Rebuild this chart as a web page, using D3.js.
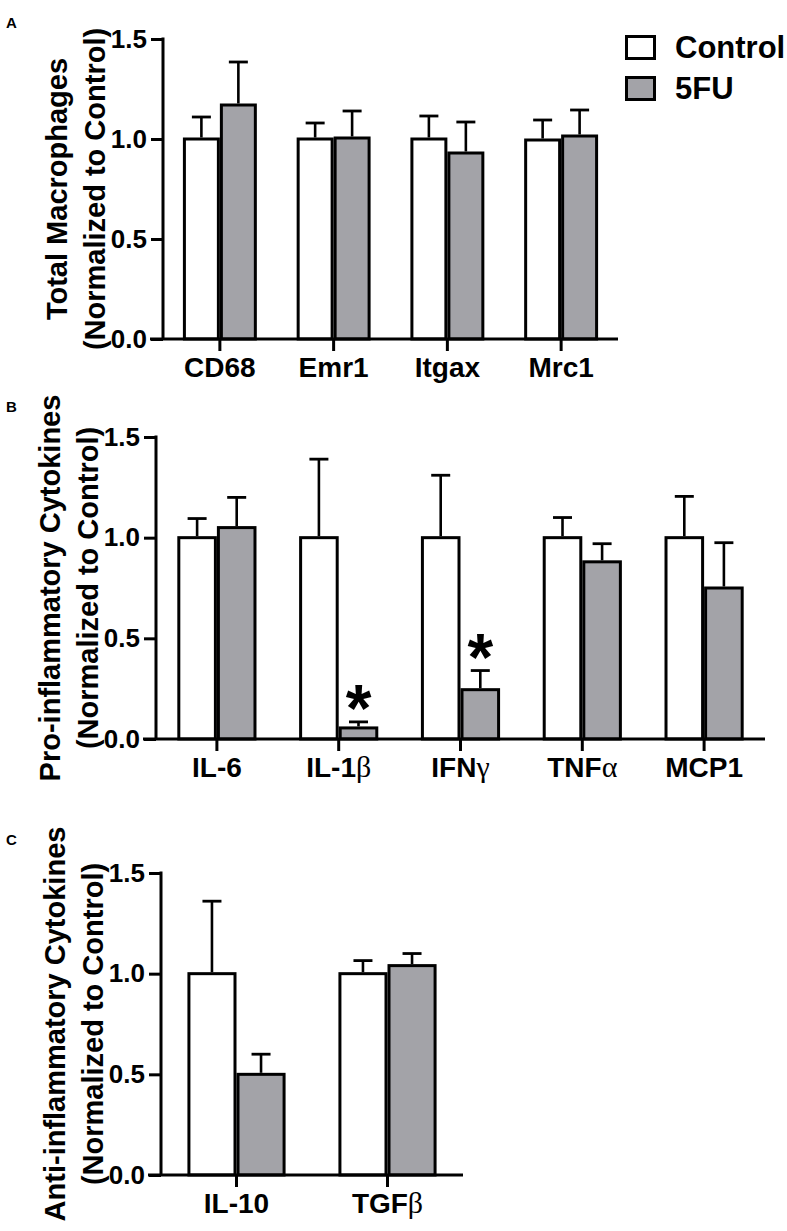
<!DOCTYPE html>
<html>
<head>
<meta charset="utf-8">
<script src="https://cdn.jsdelivr.net/npm/d3@7"></script>
<style>
  html, body { margin: 0; padding: 0; background: #fff; }
  svg { display: block; }
  text { font-family: "Liberation Sans", Arial, sans-serif; font-weight: bold; fill: #000; }
  .greek { font-family: "Liberation Serif", "DejaVu Serif", serif; font-weight: normal; }
</style>
</head>
<body>
<div id="chart"></div>
<script>
// ---------------- DATA ----------------
const seriesNames = ["Control", "5FU"];
const yTicks = [0, 0.5, 1.0, 1.5];

// Panel A: Total Macrophages
const catsA = ["CD68", "Emr1", "Itgax", "Mrc1"];
const controlA = [1.0, 1.0, 1.0, 0.995];
const controlErrA = [0.11, 0.08, 0.115, 0.10];
const fuA = [1.17, 1.005, 0.93, 1.015];
const fuErrA = [0.215, 0.135, 0.155, 0.13];
const sigA = [false, false, false, false];

// Panel B: Pro-inflammatory cytokines
const catsB = ["IL-6", "IL-1β", "IFNγ", "TNFα", "MCP1"];
const controlB = [1.0, 1.0, 1.0, 1.0, 1.0];
const controlErrB = [0.095, 0.39, 0.31, 0.10, 0.205];
const fuB = [1.05, 0.055, 0.245, 0.88, 0.75];
const fuErrB = [0.15, 0.03, 0.095, 0.09, 0.225];
const sigB = [false, true, true, false, false];

// Panel C: Anti-inflammatory cytokines
const catsC = ["IL-10", "TGFβ"];
const controlC = [1.0, 1.0];
const controlErrC = [0.36, 0.065];
const fuC = [0.5, 1.04];
const fuErrC = [0.10, 0.06];
const sigC = [false, false];

const colors = { "Control": "#ffffff", "5FU": "#a3a3a8" };

// ---------------- DRAW ----------------
const W = 787, H = 1231;
const svg = d3.select("#chart").append("svg").attr("width", W).attr("height", H);

function addLabel(sel, str) {
  const parts = str.match(/[\u0370-\u03FF]+|[^\u0370-\u03FF]+/g);
  parts.forEach(p => {
    const t = sel.append("tspan").text(p);
    if (/[\u0370-\u03FF]/.test(p)) t.attr("class", "greek").style("font-size", "30px");
  });
}

function drawPanel(opt) {
  const g = svg.append("g");
  const y = d3.scaleLinear().domain([0, 1.5]).range([opt.y0, opt.y1]);
  const x = d3.scaleBand().domain(opt.cats).range([opt.x0, opt.x1]).padding(0);
  const groupW = x.step() * 0.65;
  const sub = d3.scaleBand().domain(seriesNames).range([-groupW / 2, groupW / 2]).padding(0);

  const rows = opt.cats.map((c, i) => ({
    cat: c,
    vals: [
      { s: "Control", v: opt.control[i], e: opt.controlErr[i], sig: false },
      { s: "5FU", v: opt.fu[i], e: opt.fuErr[i], sig: opt.sig[i] }
    ]
  }));

  const sw = 3;
  const cg = g.selectAll("g.cat").data(rows).join("g")
    .attr("transform", d => `translate(${x(d.cat) + x.bandwidth() / 2},0)`);
  const bars = cg.selectAll("g.bar").data(d => d.vals).join("g");
  bars.append("rect")
    .attr("x", d => sub(d.s) + sw / 2)
    .attr("width", sub.bandwidth() - sw)
    .attr("y", d => y(d.v))
    .attr("height", d => y(0) - y(d.v))
    .attr("fill", d => colors[d.s])
    .attr("stroke", "#000").attr("stroke-width", sw);
  const cx = d => sub(d.s) + sub.bandwidth() / 2;
  bars.append("line")
    .attr("x1", cx).attr("x2", cx)
    .attr("y1", d => y(d.v) - sw / 2).attr("y2", d => y(d.v + d.e))
    .attr("stroke", "#000").attr("stroke-width", 2.6);
  bars.append("line")
    .attr("x1", d => cx(d) - 9.5).attr("x2", d => cx(d) + 9.5)
    .attr("y1", d => y(d.v + d.e)).attr("y2", d => y(d.v + d.e))
    .attr("stroke", "#000").attr("stroke-width", 2.8);
  bars.filter(d => d.sig).append("text")
    .attr("x", cx).attr("y", d => y(d.v + d.e) + 9)
    .attr("text-anchor", "middle")
    .style("font-size", "66px")
    .text("*");

  const ya = g.append("g").attr("transform", `translate(${opt.x0},0)`)
    .call(d3.axisLeft(y).tickValues(yTicks).tickFormat(d3.format(".1f")).tickSize(12).tickPadding(4));
  ya.select(".domain").attr("stroke", "#000").attr("stroke-width", 3)
    .attr("d", `M0,${y(0)}V${y(1.5) - 1.5}`);
  ya.selectAll(".tick line").attr("stroke", "#000").attr("stroke-width", 3);
  ya.selectAll(".tick text").style("font-size", "26px").style("font-family", null).attr("fill", "#000");

  const xa = g.append("g").attr("transform", `translate(0,${y(0)})`)
    .call(d3.axisBottom(x).tickSize(12).tickFormat(""));
  xa.select(".domain").attr("stroke", "#000").attr("stroke-width", 3)
    .attr("d", `M${opt.x0 - 13},0H${opt.x1}`);
  xa.selectAll(".tick line").attr("stroke", "#000").attr("stroke-width", 3);
  xa.selectAll(".tick text").remove();
  xa.selectAll(".tick").append("text")
    .attr("y", 38).attr("text-anchor", "middle")
    .style("font-size", "28px")
    .each(function (d) { addLabel(d3.select(this), d); });

  const cy = (opt.y0 + opt.y1) / 2;
  const t = g.append("text")
    .attr("transform", `translate(${opt.x0},${cy}) rotate(-90)`)
    .attr("text-anchor", "middle")
    .style("font-size", "29px");
  t.append("tspan").attr("x", 0).attr("y", -96).text(opt.title1);
  t.append("tspan").attr("x", 0).attr("y", -58).text("(Normalized to Control)");

  g.append("text").attr("x", 6).attr("y", opt.letterY).style("font-size", "15px").text(opt.letter);
}

drawPanel({ cats: catsA, control: controlA, controlErr: controlErrA, fu: fuA, fuErr: fuErrA, sig: sigA,
  x0: 163, x1: 618, y0: 339, y1: 39, title1: "Total Macrophages", letter: "A", letterY: 28 });
drawPanel({ cats: catsB, control: controlB, controlErr: controlErrB, fu: fuB, fuErr: fuErrB, sig: sigB,
  x0: 156, x1: 765, y0: 739, y1: 437, title1: "Pro-inflammatory Cytokines", letter: "B", letterY: 412 });
drawPanel({ cats: catsC, control: controlC, controlErr: controlErrC, fu: fuC, fuErr: fuErrC, sig: sigC,
  x0: 161, x1: 463, y0: 1175, y1: 873, title1: "Anti-inflammatory Cytokines", letter: "C", letterY: 845 });

const legend = svg.append("g").attr("transform", "translate(625,35)");
const li = legend.selectAll("g").data(seriesNames).join("g")
  .attr("transform", (d, i) => `translate(0,${i * 41})`);
li.append("rect").attr("x", 1.5).attr("y", 1.5).attr("width", 28).attr("height", 22)
  .attr("fill", d => colors[d]).attr("stroke", "#000").attr("stroke-width", 3);
li.append("text").attr("x", 50).attr("y", 23).style("font-size", "31px").text(d => d);
</script>
</body>
</html>
